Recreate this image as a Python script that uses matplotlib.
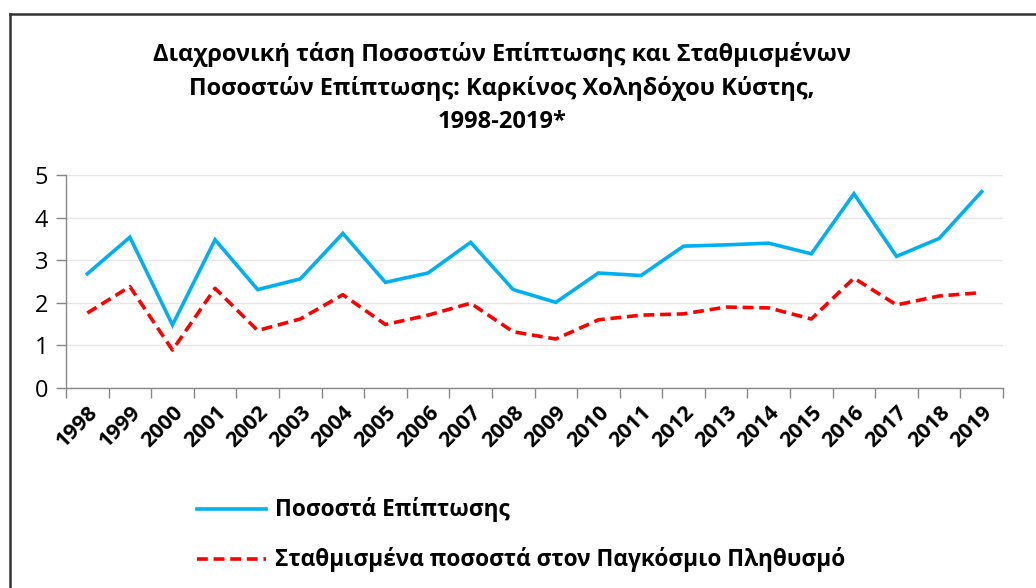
import matplotlib
matplotlib.use("Agg")
import matplotlib.pyplot as plt
from matplotlib.lines import Line2D

years = [str(y) for y in range(1998, 2020)]
incidence = [2.68, 3.54, 1.48, 3.48, 2.31, 2.56, 3.63, 2.48, 2.70, 3.42,
             2.31, 2.01, 2.70, 2.64, 3.33, 3.36, 3.40, 3.15, 4.56, 3.09, 3.51, 4.61]
standardized = [1.76, 2.38, 0.89, 2.34, 1.35, 1.62, 2.19, 1.49, 1.71, 1.99,
                1.32, 1.15, 1.60, 1.71, 1.74, 1.90, 1.88, 1.62, 2.58, 1.95, 2.16, 2.24]
yticks = [0, 1, 2, 3, 4, 5]
title = ("Διαχρονική τάση Ποσοστών Επίπτωσης και Σταθμισμένων\n"
         "Ποσοστών Επίπτωσης: Καρκίνος Χοληδόχου Κύστης,\n1998-2019*")
label1 = "Ποσοστά Επίπτωσης"
label2 = "Σταθμισμένα ποσοστά στον Παγκόσμιο Πληθυσμό"

plt.rcParams['font.family'] = ['Open Sans', 'DejaVu Sans']

W, H = 1036, 588
fig = plt.figure(figsize=(W / 100, H / 100), dpi=100)

# outer chart border (top and left visible)
fig.add_artist(Line2D([10 / W, 10 / W], [0, 1 - 14 / H], transform=fig.transFigure,
                      color='#333333', lw=1.8))
fig.add_artist(Line2D([10 / W, 1], [1 - 14 / H, 1 - 14 / H], transform=fig.transFigure,
                      color='#333333', lw=1.8))

left, right, top, bottom = 66, 1003, 175, 388
ax = fig.add_axes([left / W, 1 - bottom / H, (right - left) / W, (bottom - top) / H])

dash = (0, (3, 1.6))
x = list(range(len(years)))
ax.plot(x, incidence, color='#00B0F0', lw=2.6, solid_joinstyle='miter')
ax.plot(x, standardized, color='#FF0000', lw=2.6, ls=dash)

ax.set_xlim(-0.5, len(years) - 0.5)
ax.set_ylim(0, 5)
ax.set_yticks(yticks)
ax.set_yticklabels([str(v) for v in yticks], fontsize=17)
ax.set_xticks(x)
ax.set_xticklabels(years, rotation=45, ha='right', rotation_mode='anchor',
                   fontsize=15.5, fontweight='bold')
ax.set_xticks([i - 0.5 for i in range(len(years) + 1)], minor=True)
ax.tick_params(axis='x', which='major', length=0, pad=10)
ax.tick_params(axis='x', which='minor', length=7, color='#888888', width=1)
ax.tick_params(axis='y', length=7, color='#888888', width=1, pad=6)
ax.grid(axis='y', color='#E6E6E6', lw=1)
ax.set_axisbelow(True)
for s in ['top', 'right']:
    ax.spines[s].set_visible(False)
for s in ['left', 'bottom']:
    ax.spines[s].set_color('#888888')
    ax.spines[s].set_linewidth(1)

fig.text(502 / W, 1 - 88 / H, title, ha='center', va='center', fontsize=17,
         fontweight='bold', linespacing=1.5)

# legend
for yy, col, ls, lab in [(509, '#00B0F0', '-', label1), (559, '#FF0000', dash, label2)]:
    fig.add_artist(Line2D([197 / W, 266 / W], [1 - yy / H, 1 - yy / H], transform=fig.transFigure,
                          color=col, lw=2.6, ls=ls))
    fig.text(275 / W, 1 - yy / H, lab, ha='left', va='center', fontsize=16.3, fontweight='bold')

fig.savefig('out.png', dpi=100, facecolor='white')
